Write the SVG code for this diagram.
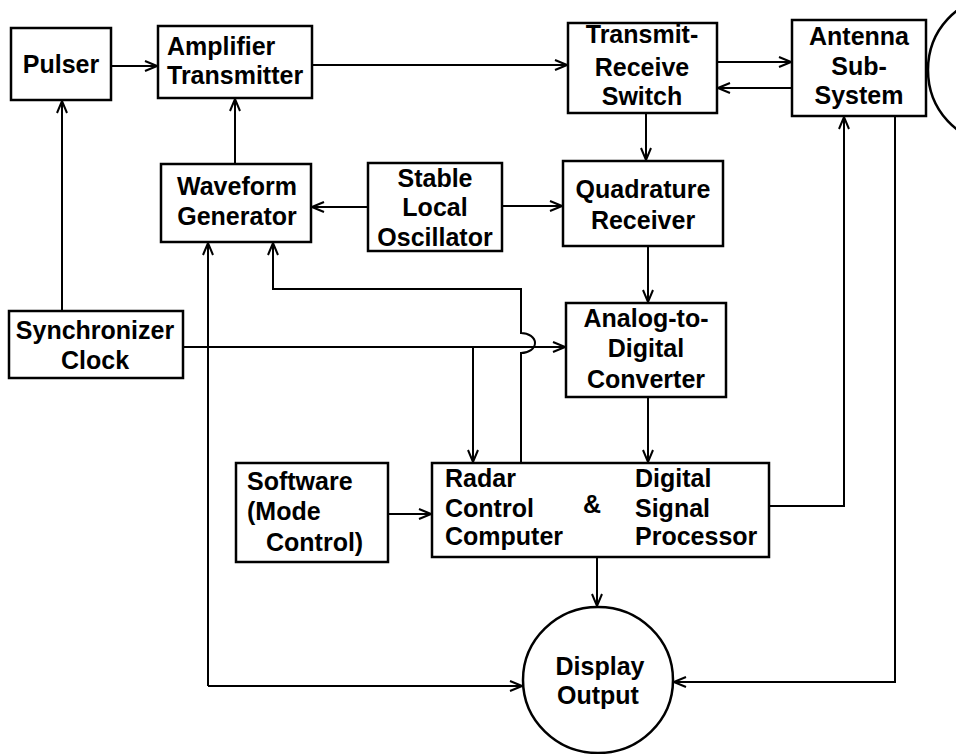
<svg xmlns="http://www.w3.org/2000/svg" width="956" height="754" viewBox="0 0 956 754">
<defs>
<marker id="ah" viewBox="0 0 14 12" refX="13" refY="6" markerWidth="14" markerHeight="12" markerUnits="userSpaceOnUse" orient="auto">
<path d="M1,1 L13,6 L1,11" fill="none" stroke="#000" stroke-width="2"/>
</marker>
<style>
.box{fill:#fff;stroke:#000;stroke-width:2.5}
.t{font-family:"Liberation Sans",Arial,sans-serif;font-weight:bold;font-size:25px;fill:#000}
.c{text-anchor:middle}
.ln{fill:none;stroke:#000;stroke-width:2}
.ar{marker-end:url(#ah)}
</style>
</defs>
<rect width="956" height="754" fill="#fff"/>

<g id="connectors">
<path class="ln ar" d="M111,66 H157"/>
<path class="ln ar" d="M312,65 H567"/>
<path class="ln ar" d="M717,62 H791"/>
<path class="ln ar" d="M792,88 H718"/>
<path class="ln ar" d="M646,113 V160"/>
<path class="ln ar" d="M368,207 H312"/>
<path class="ln ar" d="M502,206 H562"/>
<path class="ln ar" d="M235,164 V99"/>
<path class="ln ar" d="M62,311 V101"/>
<path class="ln ar" d="M183,347 H565"/>
<path class="ln ar" d="M473,347 V462"/>
<path class="ln ar" d="M648,246 V302"/>
<path class="ln ar" d="M648,397 V462"/>
<path class="ln ar" d="M521,463 V353 A14,10 0 0 0 521,333 V289 H273 V243"/>
<path class="ln ar" d="M208,686 V243"/>
<path class="ln ar" d="M208,686 H522"/>
<path class="ln ar" d="M388,514 H431"/>
<path class="ln ar" d="M769,506 H844 V117"/>
<path class="ln ar" d="M895,116 V682 H674"/>
<path class="ln ar" d="M597,557 V606"/>
</g>

<g id="pulser">
<rect class="box" x="11" y="28" width="100" height="72"/>
<text class="t c" x="61" y="73">Pulser</text>
</g>
<g id="amplifier">
<rect class="box" x="158" y="26" width="154" height="72"/>
<text class="t" x="167" y="55">Amplifier</text>
<text class="t" x="167" y="84">Transmitter</text>
</g>
<g id="trswitch">
<rect class="box" x="568" y="23" width="149" height="90"/>
<text class="t c" x="642" y="43">Transmit-</text>
<text class="t c" x="642" y="76">Receive</text>
<text class="t c" x="642" y="105">Switch</text>
</g>
<g id="antenna">
<rect class="box" x="792" y="20" width="134" height="96"/>
<text class="t c" x="859" y="45">Antenna</text>
<text class="t c" x="859" y="75">Sub-</text>
<text class="t c" x="859" y="104">System</text>
</g>
<g id="antenna-dish">
<ellipse cx="995" cy="70" rx="67" ry="72" fill="none" stroke="#000" stroke-width="2.5"/>
</g>
<g id="waveform">
<rect class="box" x="161" y="164" width="150" height="78"/>
<text class="t c" x="237" y="195">Waveform</text>
<text class="t c" x="237" y="225">Generator</text>
</g>
<g id="slo">
<rect class="box" x="368" y="163" width="134" height="88"/>
<text class="t c" x="435" y="187">Stable</text>
<text class="t c" x="435" y="216">Local</text>
<text class="t c" x="435" y="246">Oscillator</text>
</g>
<g id="quadrature">
<rect class="box" x="563" y="161" width="160" height="85"/>
<text class="t c" x="643" y="198">Quadrature</text>
<text class="t c" x="643" y="229">Receiver</text>
</g>
<g id="synchronizer">
<rect class="box" x="9" y="311" width="174" height="67"/>
<text class="t c" x="95" y="339">Synchronizer</text>
<text class="t c" x="95" y="369">Clock</text>
</g>
<g id="adc">
<rect class="box" x="566" y="303" width="160" height="94"/>
<text class="t c" x="646" y="327">Analog-to-</text>
<text class="t c" x="646" y="357">Digital</text>
<text class="t c" x="646" y="388">Converter</text>
</g>
<g id="software">
<rect class="box" x="236" y="463" width="152" height="99"/>
<text class="t" x="247" y="490">Software</text>
<text class="t" x="247" y="520">(Mode</text>
<text class="t" x="266" y="551">Control)</text>
</g>
<g id="rcc-dsp">
<rect class="box" x="432" y="463" width="337" height="94"/>
<text class="t" x="445" y="487">Radar</text>
<text class="t" x="445" y="517">Control</text>
<text class="t" x="445" y="545">Computer</text>
<text class="t" x="583" y="513">&amp;</text>
<text class="t" x="635" y="487">Digital</text>
<text class="t" x="635" y="517">Signal</text>
<text class="t" x="635" y="545">Processor</text>
</g>
<g id="display">
<ellipse cx="598" cy="680" rx="75" ry="73" fill="#fff" stroke="#000" stroke-width="2.5"/>
<text class="t c" x="600" y="675">Display</text>
<text class="t c" x="598" y="704">Output</text>
</g>
</svg>
